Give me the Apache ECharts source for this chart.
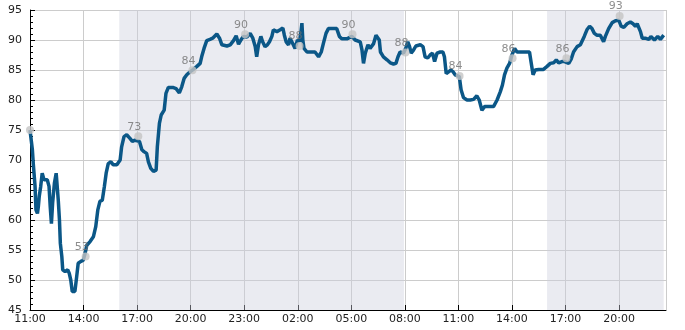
<!DOCTYPE html>
<html><head><meta charset="utf-8">
<script src="https://cdn.jsdelivr.net/npm/echarts@6/dist/echarts.min.js"></script>
<style>html,body{margin:0;padding:0;background:#fff}#c{width:685px;height:330px}</style>
</head><body><div id="c"></div>
<script>
// Time of day (sequential, wraps past midnight) and readings
const times = ["11:00","11:08","11:11","11:17","11:20","11:25","11:28","11:31","11:36","11:41","11:47","11:53","11:58","12:04","12:08","12:12","12:16","12:22","12:28","12:33","12:35","12:39","12:42","12:47","12:50","12:58","13:07","13:12","13:17","13:22","13:31","13:37","13:42","13:51","13:59","14:05","14:11","14:22","14:33","14:41","14:48","14:55","15:03","15:10","15:16","15:23","15:32","15:40","15:52","16:03","16:08","16:16","16:25","16:36","16:44","16:53","16:59","17:08","17:16","17:23","17:32","17:38","17:46","17:55","18:04","18:08","18:15","18:21","18:31","18:37","18:45","19:00","19:11","19:22","19:30","19:38","19:47","19:58","20:09","20:21","20:32","20:37","20:45","20:54","21:05","21:14","21:28","21:37","21:45","22:02","22:13","22:24","22:33","22:41","22:49","22:57","23:09","23:20","23:29","23:37","23:42","23:48","23:56","00:02","00:10","00:18","00:25","00:33","00:38","00:50","01:01","01:10","01:15","01:21","01:29","01:34","01:40","01:45","01:51","01:59","02:06","02:11","02:14","02:17","02:21","02:31","02:47","02:58","03:10","03:19","03:26","03:35","03:43","04:00","04:11","04:20","04:28","04:45","05:02","05:13","05:30","05:36","05:41","05:47","05:56","06:03","06:09","06:15","06:23","06:29","06:34","06:38","06:48","07:00","07:11","07:22","07:30","07:37","07:44","07:55","08:03","08:10","08:16","08:21","08:29","08:37","08:52","09:01","09:08","09:17","09:25","09:33","09:40","09:48","09:59","10:08","10:13","10:19","10:27","10:35","10:42","10:49","11:03","11:09","11:17","11:29","11:40","11:51","12:02","12:10","12:19","12:28","12:41","12:58","13:10","13:21","13:28","13:35","13:43","13:52","14:00","14:09","14:17","14:28","14:45","14:59","15:05","15:11","15:18","15:30","15:46","15:58","16:09","16:20","16:29","16:37","16:48","16:57","17:11","17:19","17:27","17:39","17:50","17:56","18:03","18:12","18:21","18:29","18:37","18:46","18:57","19:08","19:14","19:25","19:37","19:48","19:59","20:07","20:16","20:27","20:38","20:47","20:55","21:01","21:12","21:18","21:28","21:40","21:47","21:59","22:10","22:19","22:30"];
const values = [75,71.7,69.4,65.6,61.7,61.1,62.2,63.9,65.6,67.8,66.7,66.4,66.7,65.6,62.2,59.4,62.8,66.1,67.8,67.5,63.3,60,56.1,53.9,51.7,51.4,51.7,51.1,50,48.1,48.1,50.6,52.8,53.1,53.3,54.4,55.8,56.4,57.2,58.9,61.7,63.1,63.3,65.6,67.8,69.4,69.7,69.2,69.2,70,72.2,73.9,74.2,73.6,73.1,73.3,73.6,73.1,71.7,71.4,71.1,69.7,68.6,68.1,68.3,72.2,76.1,77.5,78.3,81.1,82.1,82.1,81.9,81.2,82.2,83.6,84.2,84.7,85.1,85.6,86.1,87.2,88.6,89.9,90.1,90.3,91,90.3,89.2,89,89.2,89.9,90.7,89.3,90,90.6,90.5,91.1,90.3,88.9,87.2,89.2,90.6,89.7,88.9,89.2,89.7,90.6,91.7,91.4,91.7,92,90.8,89.7,89.2,90.3,89.7,89.2,88.6,90,89.7,91.4,92.8,90,88.6,88,88,88,87.2,88,89.4,91.1,91.9,91.9,91.9,90.6,90.2,90.2,90.6,90,89.7,88.3,86.1,87.8,89.2,88.6,88.3,89.4,90.8,91.1,90,88,87.2,86.7,86.2,86,86.1,87.2,88,87.8,88.6,89.7,88.9,87.8,88.3,89,89.2,88.9,87.2,87,87.5,87.8,86.4,87.8,88,88,87.2,84.4,84.7,85,84.7,84.2,83.9,81.7,80.4,80,80,80.1,80.7,80,78.3,78.9,78.9,78.9,80,81.4,82.5,84.2,85.3,86.1,87.5,88.6,88,88,88,88,86.1,84.2,85,85.1,85.1,85.6,86.1,86.2,86.7,86.2,86.4,86.4,86.1,86.8,88,88.9,89.2,89,90.6,91.7,92.3,91.9,91.1,90.8,90.8,89.7,90.6,91.9,92.9,93.2,93.3,92.3,92.1,92.7,93,92.7,92.3,92.7,91.4,90.3,90.3,90.1,90.6,90,90.6,90.1,90.8];

// Annotated points
const markerTimes = ["11:00","14:07","17:04","20:06","23:03","02:06","05:04","08:02","11:04","14:02","17:03","20:02"];
const markerValues = [75,53.9,73.95,84.95,90.95,89,90.95,87.9,84,86.95,86.95,94];
const markerLabels = ["","53","73","84","90","88","90","88","84","86","86","93"];

// Night shading bands (day index from start, time)
const bandStartDay = [0,1], bandStart = ["16:00","15:58"];
const bandEndDay = [1,1], bandEnd = ["07:57","22:30"];

const START_HOUR = 11;
const X_MAX = 35.63;
const yMin = 45, yMax = 95, yStep = 5;

function hm(t){const [h,m]=t.split(':').map(Number);return h+m/60;}
function seqHours(arr){let day=0,prev=-1;return arr.map(t=>{const v=hm(t);if(v<prev)day++;prev=v;return day*24+v-START_HOUR;});}
function dayHours(d,t){return d*24+hm(t)-START_HOUR;}

const xs = seqHours(times);
const lineData = xs.map((x,i)=>[x,values[i]]);
const mxs = seqHours(markerTimes);
const markerData = mxs.map((x,i)=>({value:[x,markerValues[i]],label:{formatter:markerLabels[i]}}));
const bands = bandStart.map((s,i)=>[{xAxis:dayHours(bandStartDay[i],s)},{xAxis:dayHours(bandEndDay[i],bandEnd[i])}]);

const font = "DejaVu Sans";
const chart = echarts.init(document.getElementById('c'),null,{renderer:'canvas'});
chart.setOption({
  animation:false,
  backgroundColor:'#fff',
  grid:{left:30,right:19,top:10,bottom:20,containLabel:false},
  xAxis:{type:'value',min:0,max:X_MAX,interval:3,
    axisLine:{show:true,lineStyle:{color:'#000',width:1}},
    axisTick:{show:true,inside:true,length:5,lineStyle:{color:'#000'}},
    axisLabel:{color:'#222',fontFamily:font,fontSize:11,margin:4,showMaxLabel:false,
      formatter:v=>{const h=(START_HOUR+Math.round(v))%24;return (h<10?'0':'')+h+':00';}},
    splitLine:{show:true,lineStyle:{color:'#cccccc',width:1}}
  },
  yAxis:{type:'value',min:yMin,max:yMax,interval:yStep,
    axisLine:{show:true,lineStyle:{color:'#000',width:1}},
    axisTick:{show:true,inside:true,length:5,lineStyle:{color:'#000'}},
    minorTick:{show:true,splitNumber:5,length:3,lineStyle:{color:'#000'}},
    axisLabel:{color:'#222',fontFamily:font,fontSize:11,margin:8},
    splitLine:{show:true,lineStyle:{color:'#cccccc',width:1}}
  },
  series:[
    {type:'line',data:lineData,showSymbol:false,symbol:'none',sampling:null,z:3,
      lineStyle:{color:'#0b5787',width:3.5},
      markArea:{silent:true,itemStyle:{color:'rgba(205,207,222,0.42)'},data:bands}
    },
    {type:'scatter',data:markerData,symbolSize:8,z:5,
      itemStyle:{color:'#c4c4c4'},
      label:{show:true,position:'top',distance:0,offset:[-4,0],color:'#707070',fontFamily:font,fontSize:11}
    }
  ]
});
</script></body></html>
